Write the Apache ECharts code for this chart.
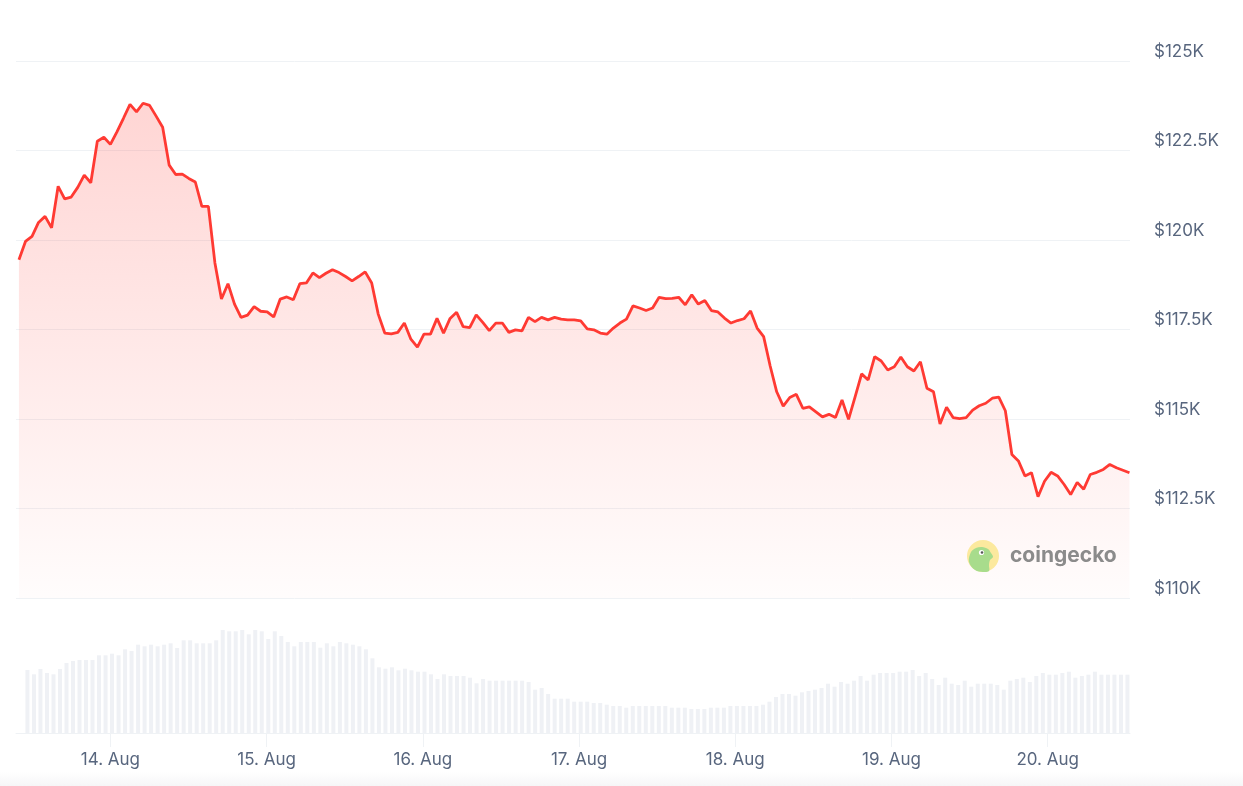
<!DOCTYPE html>
<html>
<head>
<meta charset="utf-8">
<script src="https://cdn.jsdelivr.net/npm/echarts@6/dist/echarts.min.js"></script>
<style>
html,body{margin:0;padding:0;background:#ffffff;}
#chart{width:1243px;height:786px;}
</style>
</head>
<body>
<div id="chart"></div>
<script>
// Hourly points, first at 13 Aug 2025 ~10:15 UTC
const startTime = Date.UTC(2025, 7, 13, 10, 15);
const stepMs = 3600 * 1000;

// BTC price (USD), hourly
const prices = [
119450,119960,120100,120490,120660,120340,121500,121150,121200,121470,
121810,121600,122760,122870,122670,123020,123400,123790,123580,123820,
123760,123460,123150,122090,121830,121840,121720,121620,120940,120940,
119360,118350,118780,118210,117840,117900,118140,118010,117990,117850,
118350,118410,118330,118780,118800,119080,118950,119070,119170,119090,
118980,118860,118980,119110,118800,117930,117400,117380,117420,117680,
117230,117010,117370,117370,117810,117400,117810,117980,117580,117550,
117910,117700,117470,117680,117680,117420,117490,117460,117840,117720,
117840,117770,117840,117790,117770,117770,117740,117520,117490,117400,
117370,117540,117680,117790,118160,118100,118030,118100,118400,118360,
118370,118400,118190,118470,118210,118310,118030,117990,117820,117680,
117750,117800,118020,117540,117300,116480,115760,115360,115600,115690,
115300,115340,115200,115060,115130,115040,115530,114990,115620,116260,
116090,116740,116620,116370,116460,116730,116460,116340,116600,115860,
115760,114860,115330,115040,115010,115040,115250,115370,115440,115580,
115610,115230,114010,113830,113410,113500,112830,113260,113510,113410,
113170,112890,113230,113040,113450,113510,113590,113730,113640,113570,
113500
];

// 24h volume (billion USD), aligned with prices; first point has no bar
const volumes = [
null,
63.0,58.7,64.0,60.0,58.7,64.0,70.0,72.0,73.0,73.0,
73.0,77.7,77.7,79.3,77.7,83.7,82.0,88.3,86.7,88.3,
86.7,88.3,89.7,85.0,92.7,92.7,89.7,89.7,89.7,92.7,
103.0,101.7,101.7,103.0,98.7,103.0,101.7,94.0,101.7,97.0,
91.0,86.7,91.0,91.0,91.0,85.3,89.7,86.7,91.0,89.7,
88.3,86.7,83.7,74.7,65.7,64.3,65.7,62.7,64.3,62.7,
61.3,61.3,58.7,54.0,58.7,57.0,57.0,57.0,55.3,49.7,
54.0,52.3,52.3,52.3,52.3,52.3,52.3,51.0,43.3,45.0,
39.0,34.3,34.3,34.3,31.3,31.3,31.3,30.0,30.0,28.3,
27.0,27.0,25.3,27.0,27.0,27.0,27.0,27.0,27.0,25.3,
25.3,25.3,24.0,24.0,24.0,25.3,25.3,25.3,27.0,27.0,
27.0,27.0,27.0,28.3,31.3,36.0,39.0,39.0,37.3,40.7,
42.0,43.3,45.0,49.3,46.3,51.0,49.3,52.3,57.0,52.3,
58.3,60.0,60.0,60.0,61.3,61.3,63.0,57.0,60.0,54.0,
48.0,55.3,49.3,48.0,52.3,46.3,49.3,49.3,49.3,48.0,
43.3,52.3,54.0,55.3,51.0,57.0,60.0,58.3,58.3,60.0,
61.3,55.3,57.0,58.3,61.3,58.3,58.3,58.3,58.3,58.3
];

// Price axis ticks
const priceMin = 110000;
const priceMax = 125000;
const priceStep = 2500;
const monthNames = ['Jan','Feb','Mar','Apr','May','Jun','Jul','Aug','Sep','Oct','Nov','Dec'];

const times = prices.map((_, i) => startTime + i * stepMs);
const priceData = prices.map((p, i) => [times[i], p]);
const volumeData = volumes.map((v, i) => [times[i], v == null ? '-' : v]);

const xMin = times[0] - 27 * 60 * 1000;
const xMax = times[times.length - 1] + 5 * 60 * 1000;

const labelColor = '#58667e';
const gridColor = '#eff2f5';
const font = 'Inter, "Noto Sans", sans-serif';

const chart = echarts.init(document.getElementById('chart'), null, {renderer: 'canvas'});
chart.setOption({
  useUTC: true,
  animation: false,
  backgroundColor: '#ffffff',
  textStyle: {fontFamily: font},
  grid: [
    {left: 16, right: 113, top: 61, height: 537},
    {left: 16, right: 113, top: 613, height: 120}
  ],
  xAxis: [
    {
      type: 'time', gridIndex: 0, min: xMin, max: xMax,
      axisLine: {show: false}, axisTick: {show: false}, axisLabel: {show: false},
      splitLine: {show: false}
    },
    {
      type: 'time', gridIndex: 1, min: xMin, max: xMax,
      splitNumber: 7, minInterval: 86400000, maxInterval: 86400000,
      axisLine: {show: true, lineStyle: {color: gridColor, width: 1}},
      axisTick: {show: true, length: 14, lineStyle: {color: gridColor, width: 1}},
      axisLabel: {
        color: labelColor, fontSize: 17, margin: 18, fontFamily: font,
        showMinLabel: false, showMaxLabel: false,
        formatter: function (v) {
          const d = new Date(v);
          return d.getUTCDate() + '. ' + monthNames[d.getUTCMonth()];
        }
      },
      splitLine: {show: false}
    }
  ],
  yAxis: [
    {
      type: 'value', gridIndex: 0, position: 'right',
      min: priceMin, max: priceMax, interval: priceStep,
      axisLine: {show: false}, axisTick: {show: false},
      axisLabel: {
        color: labelColor, fontSize: 17, margin: 24, fontFamily: font,
        verticalAlign: 'bottom', lineHeight: 19,
        formatter: function (v) { return '$' + (v / 1000) + 'K'; }
      },
      splitLine: {show: true, lineStyle: {color: gridColor, width: 1}}
    },
    {
      type: 'value', gridIndex: 1, min: 0, max: 120,
      show: false, splitLine: {show: false}
    }
  ],
  series: [
    {
      type: 'bar', xAxisIndex: 1, yAxisIndex: 1,
      data: volumeData, barWidth: 4,
      itemStyle: {color: '#eff1f5'},
      silent: true
    },
    {
      type: 'line', xAxisIndex: 0, yAxisIndex: 0,
      data: priceData, showSymbol: false, symbol: 'none',
      lineStyle: {color: '#ff3a33', width: 2.8},
      areaStyle: {
        color: {
          type: 'linear', x: 0, y: 0, x2: 0, y2: 1,
          colorStops: [
            {offset: 0, color: 'rgba(255,58,51,0.30)'},
            {offset: 1, color: 'rgba(255,58,51,0.02)'}
          ]
        }
      },
      z: 3
    }
  ],
  graphic: [
    {
      type: 'rect', silent: true, z: -1,
      shape: {x: 0, y: 772, width: 1243, height: 14},
      style: {
        fill: {type: 'linear', x: 0, y: 0, x2: 0, y2: 1,
          colorStops: [{offset: 0, color: '#ffffff'}, {offset: 1, color: '#f6f6f7'}]}
      }
    },
    {type: 'circle', silent: true, z: 10, shape: {cx: 983, cy: 556, r: 16}, style: {fill: '#fce99e'}},
    {type: 'polygon', silent: true, z: 11,
      shape: {smooth: 0.35, points: [[969,562],[971,552],[976,548],[982,547],[988,549],[991,553],[993,557],[990,560],[989,565],[989,571],[983,572],[975,570]]},
      style: {fill: '#a8dc8c'}},
    {type: 'circle', silent: true, z: 12, shape: {cx: 981.5, cy: 552.5, r: 2.6}, style: {fill: '#ffffff'}},
    {type: 'circle', silent: true, z: 13, shape: {cx: 982, cy: 552.5, r: 1.3}, style: {fill: '#555555'}},
    {type: 'text', silent: true, z: 10, x: 1010, y: 556,
      style: {text: 'coingecko', fontSize: 21, fontWeight: 700, fill: '#8b8b8b',
        fontFamily: font, verticalAlign: 'middle', align: 'left'}}
  ]
});
</script>
</body>
</html>
